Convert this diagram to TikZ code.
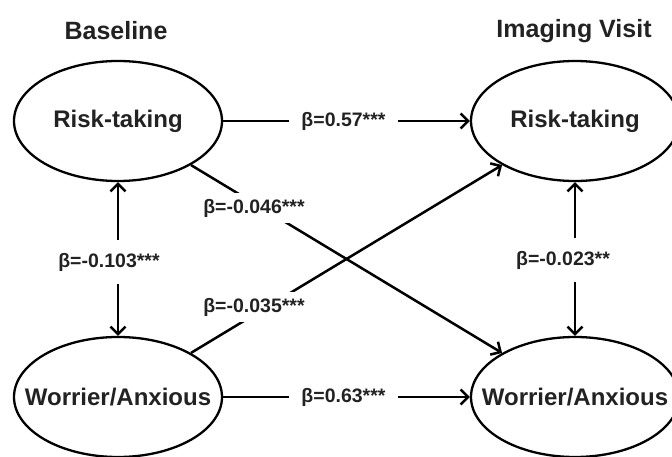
\documentclass[tikz,border=0pt]{standalone}
\usepackage{fontspec}
\setmainfont{Liberation Sans}
\usetikzlibrary{shapes.geometric,arrows.meta}
\definecolor{txt}{HTML}{222222}
\begin{document}
\begin{tikzpicture}[x=1pt,y=-1pt,
  var/.style={ellipse, draw, line width=2.3pt, minimum width=208pt, minimum height=120pt, inner sep=0pt,
    font=\fontsize{24}{28}\selectfont\bfseries, text=txt},
  head/.style={font=\fontsize{25}{29}\selectfont\bfseries, text=txt},
  regr/.style={line width=2.5pt, -{Straight Barb[length=7.5pt,width=15pt]}},
  cov/.style={line width=2.5pt, {Straight Barb[length=7.5pt,width=15pt]}-{Straight Barb[length=7.5pt,width=15pt]}},
  coef/.style={fill=white, font=\fontsize{19.5}{22}\selectfont\bfseries, text=txt, inner xsep=3pt, inner ysep=6pt}]
\useasboundingbox (0,0) rectangle (672,457);
\clip (0,0) rectangle (672,457);
\node[head] (hb) at (116,31) {Baseline};
\node[head] (hi) at (574,31) {Imaging Visit};
\node[var] (rt0) at (118,121) {\makebox[0pt]{Risk-taking}};
\node[var] (wa0) at (118,397) {\makebox[0pt]{Worrier/Anxious}};
\node[var] (rt1) at (575,121) {\makebox[0pt]{Risk-taking}};
\node[var] (wa1) at (575,397) {\makebox[0pt]{Worrier/Anxious}};
\draw[regr] (rt0) -- node[coef, inner xsep=12pt, xshift=-3pt] (c1) {β=0.57***} (rt1);
\draw[regr] (wa0) -- node[coef, inner xsep=12pt, xshift=-3pt] (c2) {β=0.63***} (wa1);
\draw[cov] (rt0) -- node[coef, xshift=-9pt, yshift=-3pt, inner ysep=13pt] (c3) {β=-0.103***} (wa0);
\draw[cov] (rt1) -- node[coef, xshift=-12pt, yshift=-1pt, inner ysep=13pt] (c4) {β=-0.023**} (wa1);
\draw[regr] (rt0) -- (wa1);
\draw[regr] (wa0) -- (rt1);
\node[coef] (c5) at (254,208) {β=-0.046***};
\node[coef] (c6) at (254,307) {β=-0.035***};
\end{tikzpicture}
\end{document}
